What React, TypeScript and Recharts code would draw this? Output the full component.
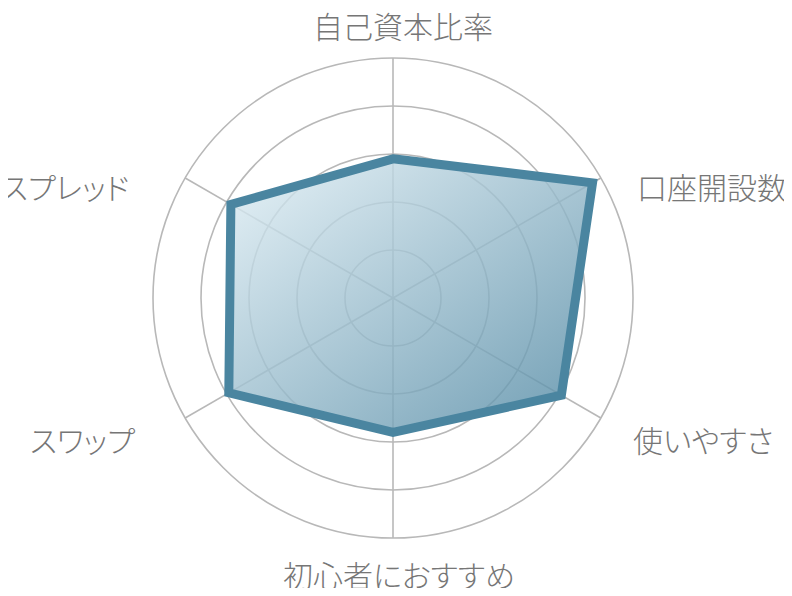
import React from "react";
import { RadarChart, Radar, PolarGrid, PolarAngleAxis, PolarRadiusAxis } from "recharts";

const categories = ["自己資本比率", "口座開設数", "使いやすさ", "初心者におすすめ", "スワップ", "スプレッド"];
const scores = [2.9, 4.8, 4.05, 2.8, 3.95, 3.9];
const radiusTicks = [0, 1, 2, 3, 4, 5];

const data = categories.map((name, i) => ({ name, score: scores[i] }));

const CX = 393;
const CY = 298;
const OUTER = 240;

// label offset from the centre, by direction of the spoke
const labelPlace = (x: number, y: number) => {
    const dx = x - CX;
    const dy = y - CY;
    if (Math.abs(dx) < 5) {
        return dy < 0
            ? { x: CX + 10, y: CY - 273, anchor: "middle" }
            : { x: CX + 6, y: CY + 276, anchor: "middle" };
    }
    if (dx > 0) {
        return dy < 0
            ? { x: CX + 244, y: CY - 112, anchor: "start" }
            : { x: CX + 240, y: CY + 141, anchor: "start" };
    }
    // left side labels hug the left edge
    return dy < 0
        ? { x: 1, y: CY - 112, anchor: "start" }
        : { x: 30, y: CY + 141, anchor: "start" };
};

const AngleTick = (props: any) => {
    const { x, y, payload } = props;
    const p = labelPlace(x, y);
    return (
        <text
            x={p.x}
            y={p.y}
            textAnchor={p.anchor}
            dominantBaseline="central"
            fill="#767676"
            fontSize={30}
            fontWeight={300}
            fontFamily="'Noto Sans CJK JP', 'Noto Sans', sans-serif"
            style={{ fontFeatureSettings: '"palt"' }}
        >
            {payload.value}
        </text>
    );
};

const App: React.FC = () => {
    return (
        <div style={{ margin: -8, width: 792, height: 596, background: "#fff" }}>
            <RadarChart
                width={792}
                height={596}
                data={data}
                cx={CX}
                cy={CY}
                outerRadius={OUTER}
                margin={{ top: 0, right: 0, bottom: 0, left: 0 }}
            >
                <defs>
                    <linearGradient id="fillGrad" x1="0" y1="0" x2="1" y2="1">
                        <stop offset="0%" stopColor="#e2f0f6" />
                        <stop offset="100%" stopColor="#4f87a2" />
                    </linearGradient>
                </defs>
                <PolarGrid gridType="circle" stroke="#b8b8b8" strokeWidth={1.6} />
                <PolarAngleAxis dataKey="name" tick={<AngleTick />} tickLine={false} axisLine={false} />
                <PolarRadiusAxis
                    domain={[0, 5]}
                    ticks={radiusTicks as any}
                    tickCount={6}
                    tick={false}
                    axisLine={false}
                />
                <Radar
                    dataKey="score"
                    stroke="#4a85a0"
                    strokeWidth={9}
                    strokeLinejoin="miter"
                    fill="url(#fillGrad)"
                    fillOpacity={0.82}
                    isAnimationActive={false}
                />
            </RadarChart>
        </div>
    );
};

export default App;
